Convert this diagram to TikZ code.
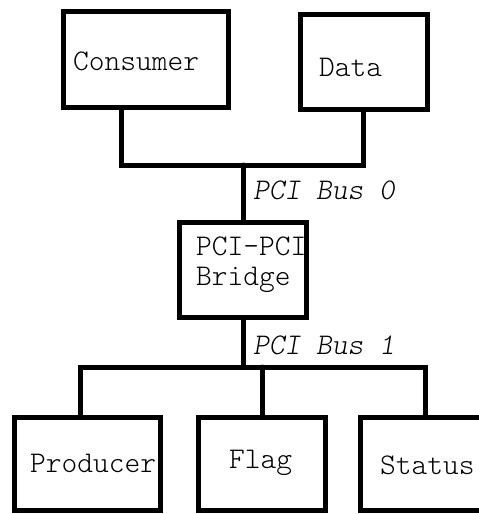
\documentclass[tikz,border=0pt]{standalone}
\usepackage{fontspec}
\setmonofont{lmmonolt10-regular.otf}[ItalicFont=lmmonolt10-oblique.otf]

\begin{document}
\begin{tikzpicture}[
  x=1pt, y=-1pt,
  font=\ttfamily\fontsize{30}{34}\selectfont,
  unit/.style={
    rectangle,
    draw=black,
    line width=5pt,
    inner sep=0pt,
    outer sep=0pt,
  },
  txt/.style={
    anchor=base west,
    inner sep=0pt,
  },
  bus/.style={black, line width=5pt, line cap=round},
]
  \useasboundingbox (0,0) rectangle (479,514);

  \node[unit, minimum width=165pt, minimum height=96pt] (cons) at (146,59.5) {};
  \node[unit, minimum width=127pt, minimum height=95pt] (data) at (364,62) {};
  \node[unit, minimum width=127pt, minimum height=95pt] (bridge) at (243,270) {};

  \node[unit, minimum width=146pt, minimum height=93pt] (prod) at (87.5,464) {};
  \node[unit, minimum width=127pt, minimum height=93pt] (flag) at (262,464) {};
  \node[unit, minimum width=140pt, minimum height=93pt] (stat) at (430.5,464) {};

  \node[txt] (consT) at (73,70) {Consumer};
  \node[txt] (dataT) at (319,76) {Data};
  \node[txt] (bridgeA) at (196,255) {PCI-PCI};
  \node[txt] (bridgeB) at (196,285) {Bridge};
  \node[txt] (prodT) at (30,472) {Producer};
  \node[txt] (flagT) at (229,468) {Flag};
  \node[txt] (statT) at (380,474) {Status};

  \node[txt, font=\ttfamily\itshape\fontsize{30}{34}\selectfont] (bus0) at (253,199) {PCI Bus 0};
  \node[txt, font=\ttfamily\itshape\fontsize{30}{34}\selectfont] (bus1) at (253,354) {PCI Bus 1};

  % PCI bus 0
  \coordinate (b0L) at (121,165);
  \coordinate (b0M) at (243,165);
  \coordinate (b0R) at (363,165);
  \draw[bus] (cons.south -| b0L) -- (b0L) -- (b0R) -- (data.south -| b0R);
  \draw[bus] (b0M) -- (bridge.north);

  % PCI bus 1
  \coordinate (b1L) at (80,367);
  \coordinate (b1M) at (243,367);
  \coordinate (b1R) at (425,367);
  \draw[bus] (bridge.south) -- (b1M);
  \draw[bus] (prod.north -| b1L) -- (b1L) -- (b1R) -- (stat.north -| b1R);
  \draw[bus] (flag.north) -- (flag.north |- b1M);

\end{tikzpicture}
\end{document}
